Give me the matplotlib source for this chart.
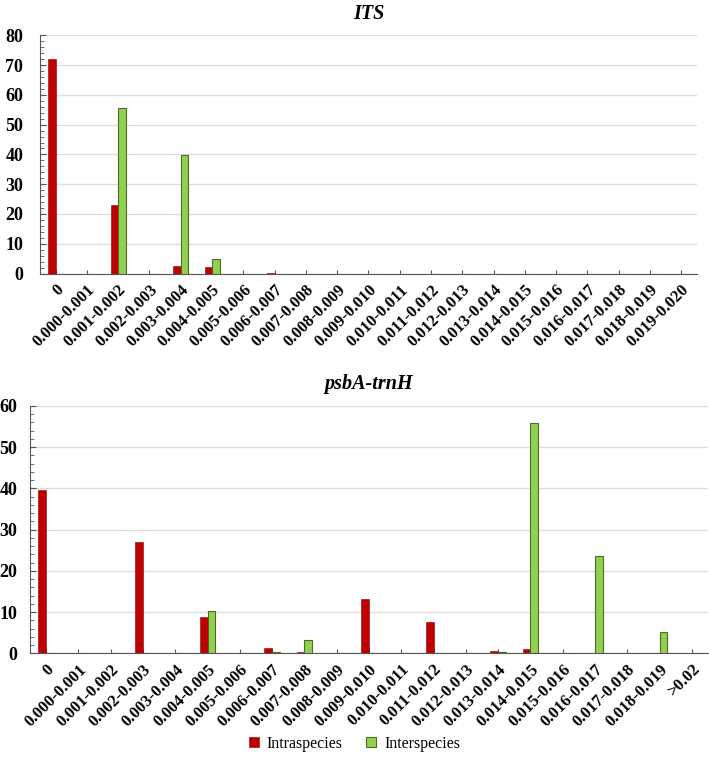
import numpy as np
import matplotlib.pyplot as plt
from matplotlib.ticker import MultipleLocator
from matplotlib.patches import Patch

plt.rcParams["font.family"] = "Liberation Serif"

its_cats = ['0', '0.000-0.001', '0.001-0.002', '0.002-0.003', '0.003-0.004', '0.004-0.005',
            '0.005-0.006', '0.006-0.007', '0.007-0.008', '0.008-0.009', '0.009-0.010',
            '0.010-0.011', '0.011-0.012', '0.012-0.013', '0.013-0.014', '0.014-0.015',
            '0.015-0.016', '0.016-0.017', '0.017-0.018', '0.018-0.019', '0.019-0.020']
its_intra = [72, 0, 23, 0, 2.7, 2.1, 0, 0.2, 0, 0, 0, 0, 0, 0, 0, 0, 0, 0, 0, 0, 0]
its_inter = [0, 0, 55.5, 0, 39.7, 4.9, 0, 0, 0, 0, 0, 0, 0, 0, 0, 0, 0, 0, 0, 0, 0]

psb_cats = ['0', '0.000-0.001', '0.001-0.002', '0.002-0.003', '0.003-0.004', '0.004-0.005',
            '0.005-0.006', '0.006-0.007', '0.007-0.008', '0.008-0.009', '0.009-0.010',
            '0.010-0.011', '0.011-0.012', '0.012-0.013', '0.013-0.014', '0.014-0.015',
            '0.015-0.016', '0.016-0.017', '0.017-0.018', '0.018-0.019', '>0.02']
psb_intra = [39.6, 0, 0, 27, 0, 8.7, 0, 1.3, 0.3, 0, 13.1, 0, 7.7, 0, 0.5, 1.0, 0, 0, 0, 0, 0]
psb_inter = [0, 0, 0, 0, 0, 10.2, 0, 0.2, 3.2, 0, 0, 0, 0, 0, 0.2, 55.8, 0, 23.7, 0, 5.1, 0]

red = '#C00000'
green = '#92D050'
green_edge = '#4F6B2A'

fig = plt.figure(figsize=(7.09, 7.62), dpi=100)
ax1 = fig.add_axes([0.0564, 0.641, 0.9266, 0.3127])
ax2 = fig.add_axes([0.0423, 0.1427, 0.9563, 0.3245])


def panel(ax, cats, intra, inter, ymax, title, ypad):
    x = np.arange(len(cats))
    w = 0.24
    ax.bar(x - w / 2, intra, w, color=red, edgecolor='#8B0000', lw=0.4, zorder=3)
    ax.bar(x + w / 2, inter, w, color=green, edgecolor=green_edge, lw=0.8, zorder=3)
    ax.set_xlim(-0.5, len(cats) - 0.5)
    ax.set_ylim(0, ymax)
    ax.set_xticks(x)
    ax.set_xticklabels(cats, rotation=45, ha='right', va='top', rotation_mode='anchor',
                       fontsize=12, fontweight='bold')
    ax.yaxis.set_major_locator(MultipleLocator(10))
    ax.yaxis.set_minor_locator(MultipleLocator(2))
    for lab in ax.get_yticklabels():
        lab.set_fontweight('bold')
        lab.set_fontsize(13)
    ax.tick_params(axis='y', which='major', direction='in', length=4, width=0.8, pad=ypad, color='#555555')
    ax.tick_params(axis='y', which='minor', direction='in', length=3, width=0.6, color='#555555')
    ax.tick_params(axis='x', which='major', direction='in', length=3, width=0.8, pad=6, color='#555555')
    ax.grid(axis='y', color='#DDDDDD', lw=1.0, zorder=0)
    ax.set_axisbelow(True)
    for s in ['top', 'right']:
        ax.spines[s].set_visible(False)
    ax.spines['left'].set_color('#555555')
    ax.spines['bottom'].set_color('#555555')
    ax.set_title(title, fontsize=14.5, fontweight='bold', fontstyle='italic', pad=12)


panel(ax1, its_cats, its_intra, its_inter, 80, 'ITS', 12)
panel(ax2, psb_cats, psb_intra, psb_inter, 60, 'psbA-trnH', 9)

handles = [Patch(facecolor=red, edgecolor='#8B0000', lw=0.4, label='Intraspecies'),
           Patch(facecolor=green, edgecolor=green_edge, lw=0.8, label='Interspecies')]
fig.legend(handles=handles, loc='center', bbox_to_anchor=(0.5, 0.024), ncol=2, frameon=False,
           fontsize=11.5, handlelength=0.6, handleheight=0.6, handletextpad=0.5, columnspacing=1.5)

plt.savefig('out.png', dpi=100)
